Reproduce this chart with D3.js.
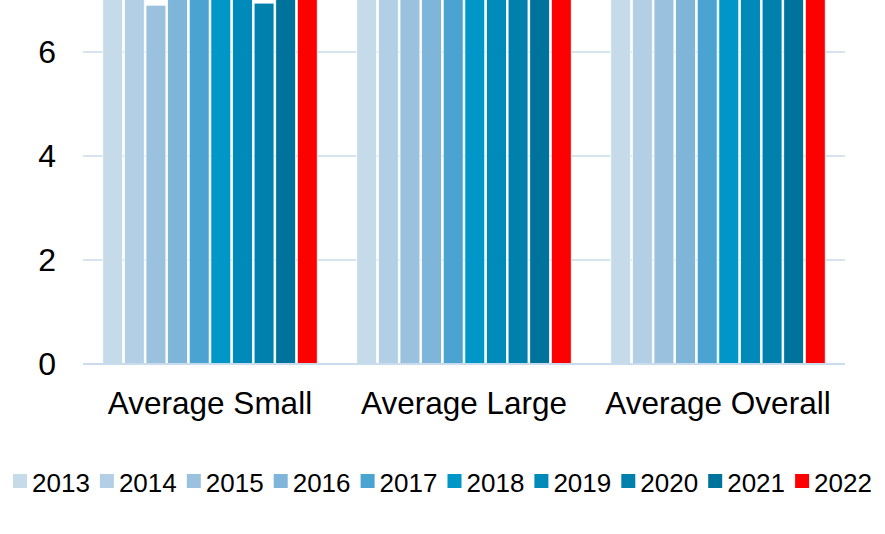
<!DOCTYPE html>
<html>
<head>
<meta charset="utf-8">
<script src="https://cdn.jsdelivr.net/npm/d3@7"></script>
<style>
  body { margin: 0; background: #fff; }
  svg { display: block; font-family: "Liberation Sans", Arial, sans-serif; }
</style>
</head>
<body>
<div id="chart"></div>
<script>
// chart data (top of the chart is cut off)
var categories = ["Average Small", "Average Large", "Average Overall"];
var years = ["2013", "2014", "2015", "2016", "2017", "2018", "2019", "2020", "2021", "2022"];
var smallVals   = [7.3, 7.4, 6.9, 7.2, 7.4, 7.5, 7.6, 6.94, 7.3, 7.8];
var largeVals   = [7.6, 7.7, 7.5, 7.6, 7.8, 7.9, 7.8, 7.4, 7.7, 8.0];
var overallVals = [7.5, 7.6, 7.3, 7.5, 7.6, 7.7, 7.7, 7.2, 7.5, 7.9];
var yTicks = [0, 2, 4, 6];
var colors = ["#c6dbea", "#b2cfe5", "#9ac1de", "#7fb5d9", "#4ba3d1",
              "#0096c8", "#008ab9", "#0081ad", "#00739d", "#ff0000"];

var W = 885, H = 534;
var seriesVals = [smallVals, largeVals, overallVals];

var svg = d3.select("#chart").append("svg")
  .attr("width", W)
  .attr("height", H);

// scales
var x0 = d3.scaleBand()
  .domain(categories)
  .range([83, 845])
  .paddingInner(0.142)
  .paddingOuter(0.071);

var x1 = d3.scaleBand()
  .domain(years)
  .range([0, x0.bandwidth()])
  .padding(0.08);

var y = d3.scaleLinear()
  .domain([0, 8])
  .range([364, -52]);

var color = d3.scaleOrdinal().domain(years).range(colors);

// gridlines
svg.append("g")
  .selectAll("line")
  .data(yTicks.filter(function(d) { return d > 0; }))
  .enter()
  .append("line")
  .attr("x1", 83).attr("x2", 845)
  .attr("y1", function(d) { return y(d); })
  .attr("y2", function(d) { return y(d); })
  .attr("stroke", "#d6e4f0")
  .attr("stroke-width", 2);

// bars
var groups = svg.append("g")
  .selectAll("g")
  .data(categories)
  .enter()
  .append("g")
  .attr("transform", function(d) { return "translate(" + x0(d) + ",0)"; });

groups.selectAll("rect")
  .data(function(d, i) {
    return years.map(function(yr, j) { return {year: yr, value: seriesVals[i][j]}; });
  })
  .enter()
  .append("rect")
  .attr("x", function(d) { return x1(d.year); })
  .attr("y", function(d) { return y(d.value); })
  .attr("width", x1.bandwidth())
  .attr("height", function(d) { return y(0) - y(d.value); })
  .attr("fill", function(d) { return color(d.year); })
  .attr("stroke", "#ffffff")
  .attr("stroke-width", 0.8);

// axis line at zero
svg.append("line")
  .attr("x1", 83).attr("x2", 845)
  .attr("y1", y(0)).attr("y2", y(0))
  .attr("stroke", "#c9dcee")
  .attr("stroke-width", 2);

// y tick labels
var yAxis = d3.axisLeft(y)
  .tickValues(yTicks)
  .tickSize(0)
  .tickPadding(0);

svg.append("g")
  .attr("transform", "translate(56,0)")
  .call(yAxis)
  .call(function(g) { g.select(".domain").remove(); })
  .selectAll("text")
  .attr("font-size", 32)
  .attr("font-family", "Liberation Sans, Arial, sans-serif")
  .attr("fill", "#000");

// category labels
var xAxis = d3.axisBottom(x0).tickSize(0).tickPadding(0);
svg.append("g")
  .attr("transform", "translate(0,392)")
  .call(xAxis)
  .call(function(g) { g.select(".domain").remove(); })
  .selectAll("text")
  .attr("font-size", 31.5)
  .attr("font-family", "Liberation Sans, Arial, sans-serif")
  .attr("fill", "#000");

// legend
var legend = svg.append("g")
  .selectAll("g")
  .data(years)
  .enter()
  .append("g")
  .attr("transform", function(d, i) { return "translate(" + (13 + i * 86.9) + ",474)"; });

legend.append("rect")
  .attr("width", 14)
  .attr("height", 14)
  .attr("fill", function(d) { return color(d); });

legend.append("text")
  .attr("x", 19)
  .attr("y", 17.5)
  .attr("font-size", 26)
  .attr("fill", "#000")
  .text(function(d) { return d; });
</script>
</body>
</html>
